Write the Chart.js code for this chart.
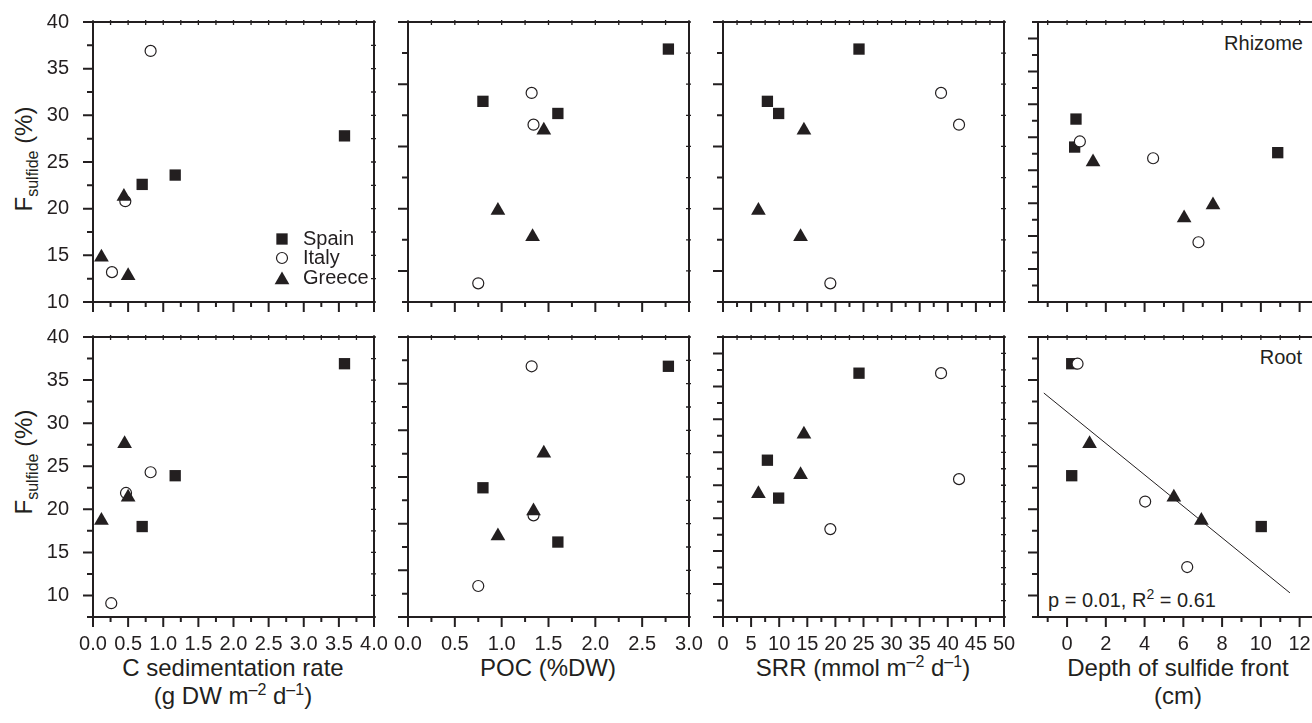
<!DOCTYPE html>
<html>
<head>
<meta charset="utf-8">
<script src="https://cdn.jsdelivr.net/npm/chart.js@4.4.0/dist/chart.umd.min.js"></script>
<style>
  body { margin: 0; background: #fff; }
  #fig { position: relative; width: 1312px; height: 723px; overflow: hidden;
         font-family: "Liberation Sans", Arial, Helvetica, sans-serif; color: #231f20; }
  #fig canvas { position: absolute; }
  .note { position: absolute; font-size: 20px; line-height: 20px; white-space: nowrap; }
  .ytitle { position: absolute; font-size: 24px; white-space: nowrap;
            transform: translate(-50%, -50%) rotate(-90deg); }
  .xtitle { position: absolute; width: 340px; margin-left: -170px; text-align: center;
            font-size: 24px; line-height: 28px; }
  sub, sup { font-size: 16px; line-height: 0; }
  .note sup { font-size: 14px; }
</style>
</head>
<body>
<div id="fig">
  <div class="ytitle" style="left:24px; top:159px">F<sub>sulfide</sub> (%)</div>
  <div class="ytitle" style="left:24px; top:462px">F<sub>sulfide</sub> (%)</div>

  <div class="xtitle" style="left:233px; top:654px">C sedimentation rate<br>(g DW m<sup>–2</sup> d<sup>–1</sup>)</div>
  <div class="xtitle" style="left:548px; top:654px">POC (%DW)</div>
  <div class="xtitle" style="left:863px; top:654px">SRR (mmol m<sup>–2</sup> d<sup>–1</sup>)</div>
  <div class="xtitle" style="left:1178px; top:654px">Depth of sulfide front<br>(cm)</div>

  <div class="note" style="right:9px; top:33px">Rhizome</div>
  <div class="note" style="right:10px; top:347px">Root</div>
  <div class="note" style="left:1048px; top:590px">p = 0.01, R<sup>2</sup> = 0.61</div>
</div>

<script>
// F sulfide (%) against four sediment variables; [x, y] pairs
const countries = ['Spain', 'Italy', 'Greece'];

// rhizome (top row)
const rhizSedSpain    = [[0.70, 22.6], [1.17, 23.6], [3.58, 27.8]];
const rhizSedItaly    = [[0.27, 13.2], [0.46, 20.8], [0.82, 36.9]];
const rhizSedGreece   = [[0.12, 14.8], [0.44, 21.3], [0.50, 12.8]];

const rhizPocSpain    = [[0.80, 31.5], [1.60, 30.2], [2.78, 37.1]];
const rhizPocItaly    = [[0.75, 12.0], [1.32, 32.4], [1.34, 29.0]];
const rhizPocGreece   = [[0.96, 19.8], [1.33, 17.0], [1.45, 28.4]];

const rhizSrrSpain    = [[7.9, 31.5], [9.9, 30.2], [24.2, 37.1]];
const rhizSrrItaly    = [[19.1, 12.0], [38.8, 32.4], [42.0, 29.0]];
const rhizSrrGreece   = [[6.3, 19.8], [13.8, 17.0], [14.4, 28.4]];

const rhizDepthSpain  = [[0.39, 26.6], [0.46, 29.6], [10.87, 26.0]];
const rhizDepthItaly  = [[0.66, 27.2], [4.44, 25.4], [6.78, 16.4]];
const rhizDepthGreece = [[1.34, 25.0], [6.04, 19.0], [7.53, 20.4]];

// root (bottom row)
const rootSedSpain    = [[0.70, 18.0], [1.17, 23.9], [3.58, 36.9]];
const rootSedItaly    = [[0.26, 9.1], [0.47, 21.9], [0.82, 24.3]];
const rootSedGreece   = [[0.12, 18.7], [0.45, 27.6], [0.50, 21.4]];

const rootPocSpain    = [[0.80, 22.5], [1.60, 16.2], [2.78, 36.6]];
const rootPocItaly    = [[0.75, 11.1], [1.34, 19.3], [1.32, 36.6]];
const rootPocGreece   = [[0.96, 16.9], [1.34, 19.8], [1.45, 26.5]];

const rootSrrSpain    = [[7.9, 25.7], [9.9, 21.3], [24.2, 35.8]];
const rootSrrItaly    = [[19.1, 17.7], [38.8, 35.8], [42.0, 23.5]];
const rootSrrGreece   = [[6.3, 21.8], [13.8, 24.0], [14.4, 28.7]];

const rootDepthSpain  = [[0.24, 36.9], [0.24, 23.9], [10.02, 18.0]];
const rootDepthItaly  = [[0.54, 36.9], [4.03, 20.9], [6.2, 13.3]];
const rootDepthGreece = [[1.16, 27.6], [5.51, 21.4], [6.93, 18.7]];
const rootDepthFit    = [[-1.2, 33.5], [11.5, 10.3]];   // regression line ends

// tick labels
const sedTicks   = ['0.0', '0.5', '1.0', '1.5', '2.0', '2.5', '3.0', '3.5', '4.0'];
const pocTicks   = ['0.0', '0.5', '1.0', '1.5', '2.0', '2.5', '3.0'];
const srrTicks   = ['0', '5', '10', '15', '20', '25', '30', '35', '40', '45', '50'];
const depthTicks = ['0', '2', '4', '6', '8', '10', '12'];
const fTicks     = ['10', '15', '20', '25', '30', '35', '40'];

const black = '#231f20';
const FONT = '"Liberation Sans", Arial, Helvetica, sans-serif';
Chart.defaults.font.family = FONT;
Chart.defaults.color = black;
Chart.defaults.animation = false;

// tick marks: every other one is long
function tickList(from, step, n, phase) {
  const out = [];
  for (let i = 0; i < n; i++) out.push({ v: from + i * step, major: (i + phase) % 2 === 0 });
  return out;
}

const columns = [
  { min: 0, max: 4, labels: sedTicks, marks: tickList(0, 0.25, 17, 0) },
  { min: 0, max: 3, labels: pocTicks, marks: tickList(0, 0.25, 13, 0) },
  { min: 0, max: 50, labels: srrTicks, marks: tickList(0, 2.5, 21, 0) },
  { min: -1.5, max: 13, labels: depthTicks, marks: tickList(-1, 1, 15, 1) }
];

const rows = [
  { top: 22, yMin: 10,
    marks: [tickList(40, -2.5, 13, 0), tickList(40, -30 / 9, 10, 0), tickList(40, -30 / 9, 10, 0), tickList(40, -30 / 17, 18, 1)],
    series: [[rhizSedSpain, rhizSedItaly, rhizSedGreece], [rhizPocSpain, rhizPocItaly, rhizPocGreece],
             [rhizSrrSpain, rhizSrrItaly, rhizSrrGreece], [rhizDepthSpain, rhizDepthItaly, rhizDepthGreece]] },
  { top: 337, yMin: 7.5,
    marks: [tickList(40, -2.5, 14, 0), tickList(40, -32.5 / 12, 13, 0), tickList(40, -32.5 / 17, 18, 1), tickList(40, -2.5, 14, 0)],
    series: [[rootSedSpain, rootSedItaly, rootSedGreece], [rootPocSpain, rootPocItaly, rootPocGreece],
             [rootSrrSpain, rootSrrItaly, rootSrrGreece], [rootDepthSpain, rootDepthItaly, rootDepthGreece]] }
];

const plotLefts = [93, 408, 723, 1038];
const plotW = 281, plotH = 280;

function seriesStyle(name) {
  if (name === 'Spain') return { pointStyle: 'rect', pointRadius: 8, pointBackgroundColor: black, pointBorderWidth: 0, order: 3 };
  if (name === 'Italy') return { pointStyle: 'circle', pointRadius: 5.5, pointBackgroundColor: '#fff', pointBorderColor: black, pointBorderWidth: 1.2, order: 2 };
  return { pointStyle: 'triangle', pointRadius: 8.5, pointBackgroundColor: black, pointBorderWidth: 0, order: 1 };
}

// frame with ticks on all four sides
const frameTicks = {
  id: 'frameTicks',
  afterDatasetsDraw(chart, args, opts) {
    const { ctx, chartArea: a } = chart;
    const x = chart.scales.x, y = chart.scales.y;
    ctx.save();
    ctx.strokeStyle = black;
    ctx.lineWidth = 2;
    ctx.strokeRect(a.left, a.top, a.right - a.left, a.bottom - a.top);
    ctx.beginPath();
    opts.yMarks.forEach(t => {
      const py = y.getPixelForValue(t.v);
      ctx.moveTo(a.left - (t.major ? 10 : 6), py);
      ctx.lineTo(a.left, py);
    });
    opts.xMarks.forEach(t => {
      const px = x.getPixelForValue(t.v);
      ctx.moveTo(px, a.bottom);
      ctx.lineTo(px, a.bottom + (t.major ? 10 : 5));
    });
    ctx.stroke();
    ctx.lineWidth = 1.3;
    ctx.beginPath();
    opts.yMarks.forEach(t => {
      const py = y.getPixelForValue(t.v);
      ctx.moveTo(a.right - 3, py);
      ctx.lineTo(a.right + 2, py);
    });
    opts.xMarks.forEach(t => {
      const px = x.getPixelForValue(t.v);
      ctx.moveTo(px, a.top - 2);
      ctx.lineTo(px, a.top + 3);
    });
    ctx.stroke();
    ctx.restore();
  }
};

// legend inside the first panel
const insideLegend = {
  id: 'insideLegend',
  afterDatasetsDraw(chart, args, opts) {
    if (!opts.show) return;
    const { ctx, chartArea: a } = chart;
    const ys = [a.bottom - 63, a.bottom - 44, a.bottom - 22];
    ctx.save();
    countries.forEach((name, i) => {
      const st = seriesStyle(name);
      ctx.fillStyle = st.pointBackgroundColor;
      ctx.strokeStyle = black;
      ctx.lineWidth = st.pointBorderWidth;
      Chart.helpers.drawPoint(ctx, { pointStyle: st.pointStyle, radius: st.pointRadius, rotation: 0, borderWidth: st.pointBorderWidth }, a.right - 92, ys[i]);
      ctx.fillStyle = black;
      ctx.font = '20px ' + FONT;
      ctx.textBaseline = 'middle';
      ctx.fillText(name, a.right - 71, ys[i] - (i === 2 ? 2 : 0));
    });
    ctx.restore();
  }
};

const fig = document.getElementById('fig');

rows.forEach((row, r) => {
  columns.forEach((col, c) => {
    // margins big enough for the scales' own label padding, so the plot box lands where set
    const ML = c === 0 ? 93 : 30, MT = 30, MR = 35, MB = r === 1 ? 45 : 30;
    const canvas = document.createElement('canvas');
    canvas.width = ML + plotW + MR;
    canvas.height = MT + plotH + MB;
    canvas.style.left = (plotLefts[c] - ML) + 'px';
    canvas.style.top = (row.top - MT) + 'px';
    fig.appendChild(canvas);

    const datasets = row.series[c].map((pts, k) => Object.assign({
      label: countries[k],
      data: pts.map(p => ({ x: p[0], y: p[1] })),
      showLine: false,
      clip: false
    }, seriesStyle(countries[k])));

    if (r === 1 && c === 3) {
      datasets.push({
        label: 'fit',
        data: rootDepthFit.map(p => ({ x: p[0], y: p[1] })),
        showLine: true,
        borderColor: black,
        borderWidth: 1,
        pointRadius: 0,
        order: 4
      });
    }

    new Chart(canvas, {
      type: 'scatter',
      data: { datasets },
      options: {
        responsive: false,
        devicePixelRatio: 1,
        events: [],
        layout: { autoPadding: false, padding: { left: 0, top: MT, right: MR, bottom: 0 } },
        plugins: {
          legend: { display: false },
          tooltip: { enabled: false },
          frameTicks: { xMarks: col.marks, yMarks: row.marks[c] },
          insideLegend: { show: r === 0 && c === 0 }
        },
        scales: {
          x: {
            type: 'linear', min: col.min, max: col.max,
            grid: { display: false }, border: { display: false },
            afterBuildTicks: s => { s.ticks = col.labels.map(t => ({ value: parseFloat(t) })); },
            afterFit: s => { s.height = MB; },
            ticks: { display: r === 1, padding: 7, maxRotation: 0, autoSkip: false,
                     font: { size: 20 }, callback: (v, i) => col.labels[i] }
          },
          y: {
            type: 'linear', min: row.yMin, max: 40,
            grid: { display: false }, border: { display: false },
            afterBuildTicks: s => { s.ticks = fTicks.map(t => ({ value: parseFloat(t) })); },
            afterFit: s => { s.width = ML; },
            ticks: { display: c === 0, padding: 16, font: { size: 20 }, callback: (v, i) => fTicks[i] }
          }
        }
      },
      plugins: [frameTicks, insideLegend]
    });
  });
});
</script>
</body>
</html>
